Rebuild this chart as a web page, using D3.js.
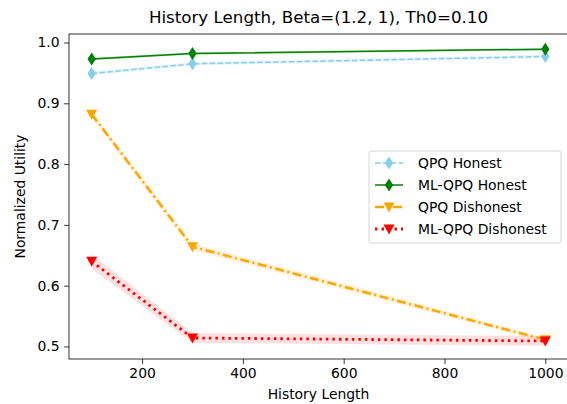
<!DOCTYPE html>
<html>
<head>
<meta charset="utf-8">
<script src="https://cdn.jsdelivr.net/npm/d3@7"></script>
<style>
  body { margin: 0; background: #fff; }
  text { font-family: "DejaVu Sans", sans-serif; fill: #000; }
</style>
</head>
<body>
<script>
// data
const historyLengths = [100, 300, 1000];
const qpqHonest = [0.949, 0.965, 0.977];
const mlqpqHonest = [0.973, 0.982, 0.989];
const qpqDishonest = [0.882, 0.664, 0.511];
const mlqpqDishonest = [0.640, 0.514, 0.509];
const qpqHonestErr = [0.003, 0.003, 0.003];
const mlqpqHonestErr = [0.002, 0.002, 0.002];
const qpqDishonestErr = [0.006, 0.006, 0.004];
const mlqpqDishonestErr = [0.012, 0.008, 0.008];
const xTicks = [200, 400, 600, 800, 1000];
const yTicks = [0.5, 0.6, 0.7, 0.8, 0.9, 1.0];

const width = 567;
const height = 404;
const margin = { left: 69, right: -1, top: 34, bottom: 45 };

const svg = d3.select("body")
  .append("svg")
  .attr("width", width)
  .attr("height", height);

const x = d3.scaleLinear().domain([55, 1045]).range([margin.left, width - margin.right]);
const y = d3.scaleLinear().domain([0.4794, 1.014]).range([height - margin.bottom, margin.top]);

const series = [
  { name: "QPQ Honest", values: qpqHonest, err: qpqHonestErr, color: "skyblue", dash: "5.5,2.4", width: 1.5, marker: "diamond", fillOpacity: 0.2 },
  { name: "ML-QPQ Honest", values: mlqpqHonest, err: mlqpqHonestErr, color: "green", dash: null, width: 1.5, marker: "diamond", fillOpacity: 0.2 },
  { name: "QPQ Dishonest", values: qpqDishonest, err: qpqDishonestErr, color: "orange", dash: "9,3.5,2,3.5", width: 2.5, marker: "tri", fillOpacity: 0.15 },
  { name: "ML-QPQ Dishonest", values: mlqpqDishonest, err: mlqpqDishonestErr, color: "red", dash: "2.5,4", width: 2.8, marker: "tri", fillOpacity: 0.12 }
];

const plot = svg.append("g");

// shaded bands
series.forEach(s => {
  const area = d3.area()
    .x((d, i) => x(historyLengths[i]))
    .y0((d, i) => y(d - s.err[i]))
    .y1((d, i) => y(d + s.err[i]));
  plot.append("path")
    .datum(s.values)
    .attr("d", area)
    .style("fill", s.color)
    .style("opacity", s.fillOpacity);
});

// lines
const line = d3.line().x((d, i) => x(historyLengths[i])).y(d => y(d));
series.forEach(s => {
  plot.append("path")
    .datum(s.values)
    .attr("d", line)
    .style("fill", "none")
    .style("stroke", s.color)
    .style("stroke-width", s.width)
    .style("stroke-dasharray", s.dash);
});

function markerPath(type) {
  if (type === "diamond") return "M0,-6.5L4.2,0L0,6.5L-4.2,0Z";
  return "M-5.5,-4.5L5.5,-4.5L0,5.5Z";
}

// markers
series.forEach(s => {
  plot.selectAll(null)
    .data(s.values)
    .enter()
    .append("path")
    .attr("transform", (d, i) => `translate(${x(historyLengths[i])},${y(d)})`)
    .attr("d", markerPath(s.marker))
    .style("fill", s.color);
});

// axes
svg.append("g")
  .attr("transform", `translate(0,${height - margin.bottom})`)
  .call(d3.axisBottom(x).tickValues(xTicks).tickFormat(d3.format("d")).tickSize(4.9).tickPadding(4))
  .call(g => g.select(".domain").remove())
  .selectAll("text").style("font-size", "13.9px").attr("font-family", null);

svg.append("g")
  .attr("transform", `translate(${margin.left},0)`)
  .call(d3.axisLeft(y).tickValues(yTicks).tickFormat(d3.format(".1f")).tickSize(4.9).tickPadding(4.5))
  .call(g => g.select(".domain").remove())
  .selectAll("text").style("font-size", "13.9px").attr("font-family", null);

svg.selectAll(".tick line").style("stroke", "#000").style("stroke-width", 0.8);

// frame
svg.append("rect")
  .attr("x", margin.left)
  .attr("y", margin.top)
  .attr("width", width - margin.right - margin.left)
  .attr("height", height - margin.bottom - margin.top)
  .style("fill", "none")
  .style("stroke", "#000")
  .style("stroke-width", 0.8);

// title and labels
svg.append("text")
  .attr("x", (margin.left + width - margin.right) / 2)
  .attr("y", 23)
  .attr("text-anchor", "middle")
  .style("font-size", "16.7px")
  .text("History Length, Beta=(1.2, 1), Th0=0.10");

svg.append("text")
  .attr("x", (margin.left + width - margin.right) / 2)
  .attr("y", 399)
  .attr("text-anchor", "middle")
  .style("font-size", "13.9px")
  .text("History Length");

svg.append("text")
  .attr("transform", `translate(25,${(margin.top + height - margin.bottom) / 2}) rotate(-90)`)
  .attr("text-anchor", "middle")
  .style("font-size", "13.9px")
  .text("Normalized Utility");

// legend
const legend = svg.append("g").attr("transform", "translate(369,151)");
legend.append("rect")
  .attr("width", 192)
  .attr("height", 92)
  .attr("rx", 2)
  .style("fill", "#fff")
  .style("fill-opacity", 0.8)
  .style("stroke", "#ccc")
  .style("stroke-width", 0.8);

series.forEach((s, i) => {
  const row = legend.append("g").attr("transform", `translate(0,${12 + i * 22})`);
  row.append("line")
    .attr("x1", 6).attr("x2", 34)
    .style("stroke", s.color)
    .style("stroke-width", s.width)
    .style("stroke-dasharray", s.dash);
  row.append("path")
    .attr("transform", "translate(20,0)")
    .attr("d", markerPath(s.marker))
    .style("fill", s.color);
  row.append("text")
    .attr("x", 49)
    .attr("y", 5)
    .style("font-size", "13.9px")
    .text(s.name);
});
</script>
</body>
</html>
